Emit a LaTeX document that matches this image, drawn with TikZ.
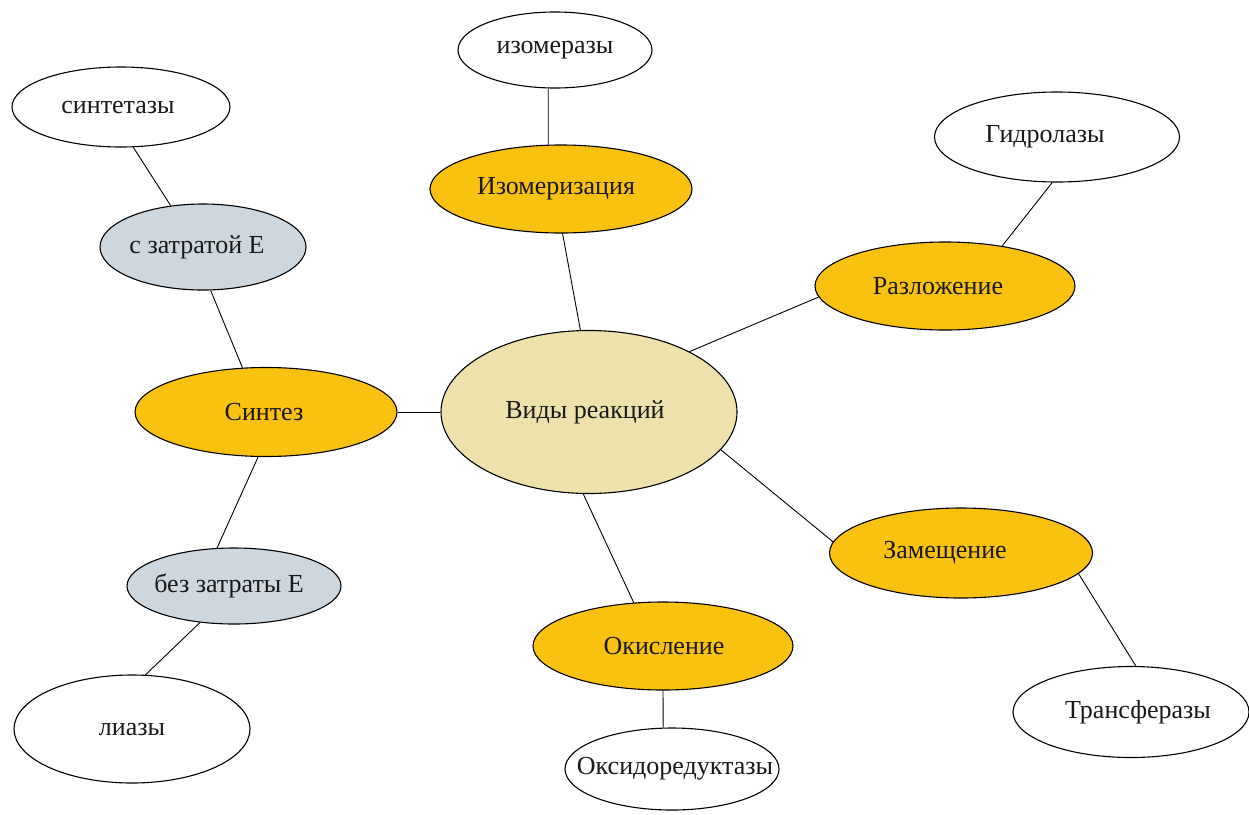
\documentclass[tikz,border=0pt]{standalone}
\usepackage{fontspec}
\setmainfont{Liberation Serif}
\usetikzlibrary{shapes.geometric}
\definecolor{gold}{RGB}{249,193,16}
\definecolor{beige}{RGB}{238,225,172}
\definecolor{greyblue}{RGB}{206,214,222}
% text centred in a zero-width box, shifted by #1/2 horizontally
\newcommand\bubtxt[2]{\makebox[0pt]{\hspace*{#1}\raisebox{-3pt}{#2}}}
\tikzset{
  bub/.style={ellipse, draw=black, line width=1.1pt, inner sep=0pt,
    font=\fontsize{26}{30}\selectfont, text=black!90},
  wbub/.style={bub, fill=white},
  obub/.style={bub, fill=gold},
  gbub/.style={bub, fill=greyblue},
  cbub/.style={bub, fill=beige},
  link/.style={draw=black, line width=0.9pt},
  sz/.style 2 args={minimum width=#1pt, minimum height=#2pt}
}
\begin{document}
\begin{tikzpicture}[x=1pt,y=-1pt]
\useasboundingbox (0,0) rectangle (1249,814);
% nodes
\node[cbub, sz={296}{163}] (V) at (589,412) {\bubtxt{-8pt}{Виды реакций}};
\node[wbub, sz={194}{76}] (izz) at (555,50) {\bubtxt{0pt}{изомеразы}};
\node[obub, sz={262}{88}] (iz) at (561,189) {\bubtxt{-10pt}{Изомеризация}};
\node[wbub, sz={218}{80}] (sint) at (121,107) {\bubtxt{-6pt}{синтетазы}};
\node[gbub, sz={206}{86}] (sz) at (203,247) {\bubtxt{-12pt}{с затратой Е}};
\node[obub, sz={262}{89}] (syn) at (266,412) {\bubtxt{-4pt}{Синтез}};
\node[gbub, sz={214}{76}] (bz) at (234,586) {\bubtxt{-10pt}{без затраты Е}};
\node[wbub, sz={236}{108}] (lia) at (132,729) {\bubtxt{0pt}{лиазы}};
\node[wbub, sz={245}{90}] (gid) at (1057,137) {\bubtxt{-24pt}{Гидролазы}};
\node[obub, sz={260}{88}] (raz) at (945,286) {\bubtxt{-14pt}{Разложение}};
\node[obub, sz={263}{90}] (zam) at (961,553) {\bubtxt{-32pt}{Замещение}};
\node[wbub, sz={236}{91}] (tra) at (1131,712) {\bubtxt{14pt}{Трансферазы}};
\node[obub, sz={260}{88}] (oki) at (663,646) {\bubtxt{2pt}{Окисление}};
\node[wbub, sz={214}{82}] (oks) at (672,769) {\bubtxt{6pt}{Оксидоредуктазы}};
% connectors
\draw[link] (izz.-100.4) -- (iz.106.5);
\draw[link] (iz.-88.7) -- (V.96.3);
\draw[link] (sint.-73.3) -- (sz.128.2);
\draw[link] (sz.-80.8) -- (syn.118.6);
\draw[link] (syn.east) -- (V.west);
\draw[link] (syn.-100.1) -- (bz.114.1);
\draw[link] (bz.-133.5) -- (lia.76.5);
\draw[link] (gid.-96.3) -- (raz.35.3);
\draw[link] (V.31.2) -- (raz.185.1);
\draw[link] (V.-16.4) -- (zam.175.1);
\draw[link] (zam.-10.7) -- (tra.84.9);
\draw[link] (V.-94.8) -- (oki.124.9);
\draw[link] (oki.-90) -- (oks.102.4);
\end{tikzpicture}
\end{document}
